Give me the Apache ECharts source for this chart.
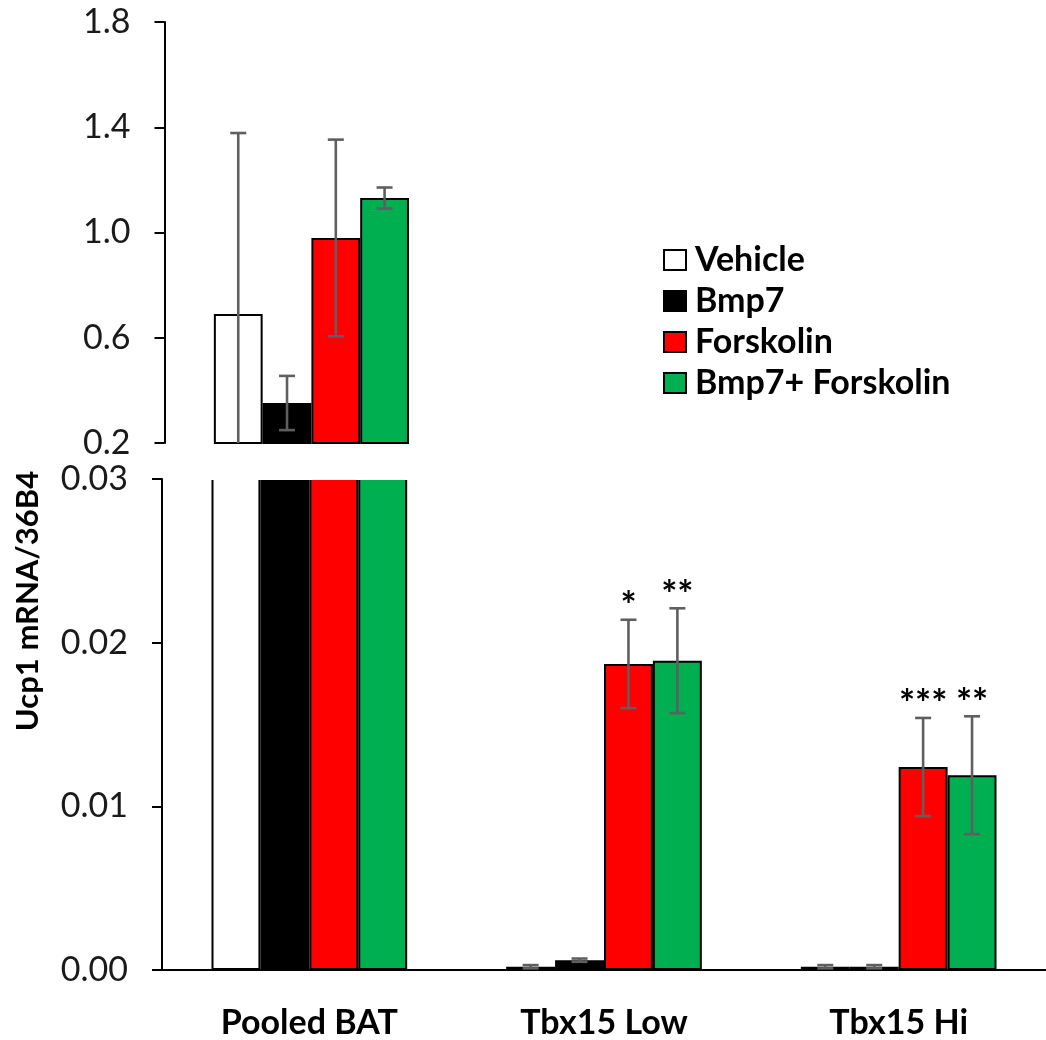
<!DOCTYPE html>
<html>
<head>
<meta charset="utf-8">
<script src="https://cdn.jsdelivr.net/npm/echarts@6/dist/echarts.min.js"></script>
<style>html,body{margin:0;padding:0;background:#fff}#chart{width:1046px;height:1040px}</style>
</head>
<body>
<div id="chart"></div>
<script>
// ---- data ----
const categories = ['Pooled BAT', 'Tbx15 Low', 'Tbx15 Hi'];
const seriesNames = ['Vehicle', 'Bmp7', 'Forskolin', 'Bmp7+ Forskolin'];
const vehicle    = [0.69, 0.0002, 0.0002];
const bmp7       = [0.352, 0.0006, 0.0002];
const forskolin  = [0.979, 0.0187, 0.0124];
const combo      = [1.131, 0.0189, 0.0119];
const vehicleErr   = [0.688, 0.0001, 0.0001];
const bmp7Err      = [0.103, 0.0001, 0.0001];
const forskolinErr = [0.374, 0.0027, 0.0030];
const comboErr     = [0.040, 0.0032, 0.0036];
const forskolinStars = ['', '*', '***'];
const comboStars     = ['', '**', '**'];
const upperTicks = [0.2, 0.6, 1.0, 1.4, 1.8];
const lowerTicks = [0.00, 0.01, 0.02, 0.03];

// ---- build ----
const values = [vehicle, bmp7, forskolin, combo];
const errs = [vehicleErr, bmp7Err, forskolinErr, comboErr];
const stars = [['', '', ''], ['', '', ''], forskolinStars, comboStars];
const colors = ['#ffffff', '#000000', '#ff0000', '#00b050'];
const FONT = 'Lato';
const CAT_GAP = 0.336;
const upperCats = [0];
const lowerCats = [1, 2];

function errData(cats) {
  const d = [];
  cats.forEach(c => values.forEach((arr, s) => d.push([c, s, arr[c], errs[s][c]])));
  return d;
}
const starList = [];
lowerCats.forEach(c => values.forEach((arr, s) => { if (stars[s][c]) starList.push([c, s, arr[c], errs[s][c], stars[s][c]]); }));

function barX(api, cat, s) {
  const c = api.coord([cat, 0]);
  const bandW = api.size([1, 0])[0];
  const bw = bandW * (1 - CAT_GAP) / 4;
  return c[0] + (s - 1.5) * bw;
}
function errRender(params, api) {
  const cat = api.value(0), s = api.value(1), v = api.value(2), e = api.value(3);
  const x = barX(api, cat, s);
  const cs = params.coordSys;
  const yTop = api.coord([cat, v + e])[1];
  let yBot = api.coord([cat, v - e])[1];
  const floor = cs.y + cs.height;
  let clipped = false;
  if (yBot > floor) { yBot = floor; clipped = true; }
  const st = { stroke: '#5f5f5f', lineWidth: 2.6 };
  const cap = 8;
  const ch = [
    { type: 'line', shape: { x1: x, y1: yTop, x2: x, y2: yBot }, style: st },
    { type: 'line', shape: { x1: x - cap, y1: yTop, x2: x + cap, y2: yTop }, style: st }
  ];
  if (!clipped) ch.push({ type: 'line', shape: { x1: x - cap, y1: yBot, x2: x + cap, y2: yBot }, style: st });
  return { type: 'group', children: ch };
}
function starRender(params, api) {
  const cat = api.value(0), s = api.value(1), v = api.value(2), e = api.value(3);
  const x = barX(api, cat, s);
  const yTop = api.coord([cat, v + e])[1];
  return {
    type: 'text',
    style: { text: starList[params.dataIndex][4], x: x, y: yTop + 6, align: 'center', verticalAlign: 'bottom',
             font: 'bold 38px ' + FONT, fill: '#000' }
  };
}

const series = [];
values.forEach((arr, s) => {
  series.push({
    name: seriesNames[s], type: 'bar', xAxisIndex: 0, yAxisIndex: 0,
    data: arr.map(v => v), barGap: '0%', barCategoryGap: (CAT_GAP * 100) + '%',
    itemStyle: { color: colors[s], borderColor: '#000', borderWidth: 2 }, clip: true, z: 2
  });
  series.push({
    name: seriesNames[s], type: 'bar', xAxisIndex: 1, yAxisIndex: 1,
    data: arr.map((v, i) => upperCats.includes(i) ? v : '-'), barGap: '0%', barCategoryGap: (CAT_GAP * 100) + '%',
    itemStyle: { color: colors[s], borderColor: '#000', borderWidth: 2 }, clip: true, z: 2
  });
});
series.push({ type: 'custom', xAxisIndex: 0, yAxisIndex: 0, renderItem: errRender, data: errData(lowerCats), z: 5, silent: true });
series.push({ type: 'custom', xAxisIndex: 1, yAxisIndex: 1, renderItem: errRender, data: errData(upperCats), z: 5, silent: true });
series.push({ type: 'custom', xAxisIndex: 0, yAxisIndex: 0, renderItem: starRender, data: starList.map(r => r.slice(0, 4)), z: 6, silent: true });

const yAxisCommon = {
  type: 'value',
  axisLine: { show: true, lineStyle: { color: '#000', width: 2 } },
  axisTick: { show: true, inside: false, length: 10, lineStyle: { color: '#000', width: 2 } },
  splitLine: { show: false },
  axisLabel: { color: '#1a1a1a', fontFamily: FONT, fontSize: 34, margin: 34 }
};

const option = {
  animation: false,
  backgroundColor: '#fff',
  grid: [
    { left: 162, top: 479, width: 891, height: 493 },
    { left: 164.5, top: 22, width: 891, height: 421 }
  ],
  xAxis: [
    { type: 'category', gridIndex: 0, data: categories,
      axisLine: { show: true, lineStyle: { color: '#000', width: 2 } }, axisTick: { show: false },
      axisLabel: { color: '#000', fontFamily: FONT, fontWeight: 'bold', fontSize: 34, margin: 36 } },
    { type: 'category', gridIndex: 1, data: categories, show: false }
  ],
  yAxis: [
    Object.assign({}, yAxisCommon, { gridIndex: 0, min: lowerTicks[0], max: lowerTicks[lowerTicks.length - 1], interval: 0.01,
      axisLabel: Object.assign({}, yAxisCommon.axisLabel, { formatter: v => v.toFixed(2) }) }),
    Object.assign({}, yAxisCommon, { gridIndex: 1, min: upperTicks[0], max: upperTicks[upperTicks.length - 1], interval: 0.4,
      axisLabel: Object.assign({}, yAxisCommon.axisLabel, { formatter: v => v.toFixed(1) }) })
  ],
  legend: {
    data: seriesNames, orient: 'vertical', left: 658, top: 238,
    itemWidth: 22, itemHeight: 20, itemGap: 7,
    icon: 'rect',
    textStyle: { color: '#000', fontFamily: FONT, fontWeight: 'bold', fontSize: 34, lineHeight: 34, padding: [0, 0, 0, 4] },
    selectedMode: false
  },
  graphic: [
    { type: 'text', x: 28, y: 601, rotation: Math.PI / 2,
      style: { text: 'Ucp1 mRNA/36B4', font: 'bold 31px ' + FONT, fill: '#000', align: 'center', verticalAlign: 'middle' } },
    { type: 'rect', shape: { x: 205, y: 474.5, width: 210, height: 5.5 }, style: { fill: '#fff' }, z: 100 }
  ],
  series: series
};
const chart = echarts.init(document.getElementById('chart'));
chart.setOption(option);
</script>
</body>
</html>
